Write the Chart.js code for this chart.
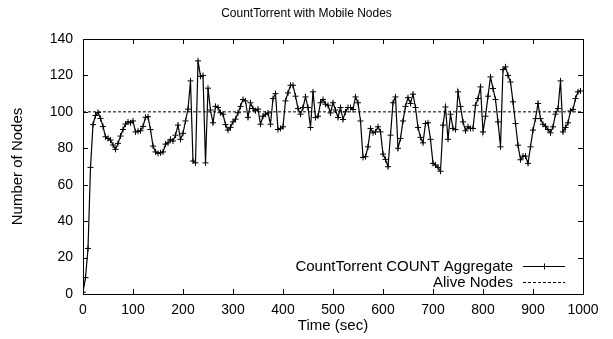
<!DOCTYPE html>
<html>
<head>
<meta charset="utf-8">
<script src="https://cdn.jsdelivr.net/npm/chart.js@4.4.0/dist/chart.umd.min.js"></script>
<style>
  html, body { margin: 0; padding: 0; background: #fff; }
  #wrap { width: 613px; height: 339px; }
</style>
</head>
<body>
<div id="wrap"><canvas id="chart" width="613" height="339"></canvas></div>
<script>
// time of each sample (sec)
const timeSec = [
  0, 5, 10, 15, 20, 25, 30, 35, 40, 45, 50, 55, 60, 65, 70, 75, 80, 85, 90, 95,
  100, 105, 110, 115, 120, 125, 130, 135, 140, 145, 150, 155, 160, 165, 170, 175, 180, 185, 190, 195,
  200, 205, 210, 215, 220, 225, 230, 235, 240, 245, 250, 255, 260, 265, 270, 275, 280, 285, 290, 295,
  300, 305, 310, 315, 320, 325, 330, 335, 340, 345, 350, 355, 360, 365, 370, 375, 380, 385, 390, 395,
  400, 405, 410, 415, 420, 425, 430, 435, 440, 445, 450, 455, 460, 465, 470, 475, 480, 485, 490, 495,
  500, 505, 510, 515, 520, 525, 530, 535, 540, 545, 550, 555, 560, 565, 570, 575, 580, 585, 590, 595,
  600, 605, 610, 615, 620, 625, 630, 635, 640, 645, 650, 655, 660, 665, 670, 675, 680, 685, 690, 695,
  700, 705, 710, 715, 720, 725, 730, 735, 740, 745, 750, 755, 760, 765, 770, 775, 780, 785, 790, 795,
  800, 805, 810, 815, 820, 825, 830, 835, 840, 845, 850, 855, 860, 865, 870, 875, 880, 885, 890, 895,
  900, 905, 910, 915, 920, 925, 930, 935, 940, 945, 950, 955, 960, 965, 970, 975, 980, 985, 990, 995
];

// CountTorrent COUNT aggregate
const countAggregate = [
  1, 9, 25, 69.5, 93, 98, 99.7, 96.4, 92, 86.3, 85.4, 84.5, 81.8, 79.4, 82.7, 86.7, 90.3, 93.3, 94.5, 94,
  95, 89, 89.4, 89.6, 92, 97, 97.3, 90.3, 81.2, 78, 77.2, 77.5, 78, 82.3, 83, 84.9, 84, 87.2, 92.7, 84.9,
  88.2, 95, 101.5, 117, 73, 72, 128, 119.5, 120, 72, 113, 101, 94, 103, 102.4, 99.5, 98.7, 93, 90, 91.5,
  94.5, 96, 99.5, 103, 106.8, 106, 97, 105, 101.8, 100.6, 101.5, 93.2, 97.6, 98.7, 99.4, 93.2, 107.3, 110, 90.3, 90.9,
  91.8, 106, 110.4, 114.6, 114.6, 108.6, 101.8, 98.7, 102.4, 108.2, 102.4, 91.4, 111, 96.9, 97.6, 105, 106.8, 104.2, 103.6, 99.4,
  105, 101, 96.9, 102.4, 95.8, 100, 102.4, 102.4, 101.3, 108.2, 105, 95, 75, 75.4, 80.8, 90.9, 88.5, 89, 91.8, 89,
  76.8, 73.9, 69.9, 87.2, 105, 108.2, 80, 85.4, 95, 103, 107.8, 104.6, 109.7, 102.4, 91.4, 86, 83, 93.6, 94, 84.9,
  71.7, 70.8, 69.5, 67.4, 92.7, 102.7, 84.9, 98.7, 90.9, 90.3, 111, 103, 94.5, 89.6, 91.8, 90.9, 90.9, 103.6, 107.3, 113.7,
  89, 97.6, 108.6, 119.2, 112.8, 106.8, 94.5, 80.8, 123.2, 124.7, 120, 116.4, 105.5, 93.6, 81.7, 73.7, 75.7, 75.7, 71.7, 80.8,
  90, 96.3, 104.6, 96.3, 93.2, 92.1, 90.3, 88.5, 91.8, 98.7, 101.8, 117, 89, 91.4, 94, 100.5, 101.3, 107.3, 111, 111.5
];

const aliveTime = [0, 1000];
const aliveNodes = [100, 100];

const xTicks = [0, 100, 200, 300, 400, 500, 600, 700, 800, 900, 1000];
const yTicks = [0, 20, 40, 60, 80, 100, 120, 140];

const chartTitle = 'CountTorrent with Mobile Nodes';

const FONT = '"Liberation Sans", Arial, Helvetica, sans-serif';
Chart.defaults.font.family = FONT;
Chart.defaults.color = '#000';

// title centred on the whole picture, like gnuplot does
const topTitle = {
  id: 'topTitle',
  afterDraw(chart) {
    const { ctx, width } = chart;
    ctx.save();
    ctx.font = '12px ' + FONT;
    ctx.fillStyle = '#000';
    ctx.textAlign = 'center';
    ctx.textBaseline = 'middle';
    ctx.fillText(chartTitle, width / 2, 14);
    ctx.restore();
  }
};

// gnuplot style border with inward tick marks on all four sides
const frame = {
  id: 'frame',
  beforeDatasetsDraw(chart) {
    const { ctx, chartArea: a, scales: { x, y } } = chart;
    const len = 5;
    ctx.save();
    ctx.strokeStyle = '#000';
    ctx.lineWidth = 1;
    ctx.beginPath();
    for (const v of xTicks) {
      const px = Math.round(x.getPixelForValue(v)) + 0.5;
      ctx.moveTo(px, a.bottom); ctx.lineTo(px, a.bottom - len);
      ctx.moveTo(px, a.top); ctx.lineTo(px, a.top + len);
    }
    for (const v of yTicks) {
      const py = Math.round(y.getPixelForValue(v)) + 0.5;
      ctx.moveTo(a.left, py); ctx.lineTo(a.left + len, py);
      ctx.moveTo(a.right, py); ctx.lineTo(a.right - len, py);
    }
    ctx.stroke();
    ctx.strokeRect(Math.round(a.left) + 0.5, Math.round(a.top) + 0.5,
                   Math.round(a.width), Math.round(a.height));
    ctx.restore();
  }
};

// key in the lower right corner: label, then line sample
const key = {
  id: 'key',
  afterDatasetsDraw(chart) {
    const { ctx, chartArea: a } = chart;
    ctx.save();
    ctx.font = '15px ' + FONT;
    ctx.fillStyle = '#000';
    ctx.strokeStyle = '#000';
    ctx.textAlign = 'right';
    ctx.textBaseline = 'middle';
    chart.data.datasets.forEach((ds, i) => {
      const yy = a.bottom - 28 + i * 16;
      ctx.fillText(ds.label, a.right - 70, yy + 1);
      const x0 = a.right - 60, x1 = a.right - 18;
      ctx.lineWidth = ds.borderWidth;
      ctx.setLineDash(ds.borderDash || []);
      ctx.beginPath();
      ctx.moveTo(x0, Math.round(yy) + 0.5);
      ctx.lineTo(x1, Math.round(yy) + 0.5);
      ctx.stroke();
      if (ds.pointRadius) {
        ctx.setLineDash([]);
        ctx.lineWidth = 1;
        const cx = Math.round((x0 + x1) / 2) + 0.5, cy = Math.round(yy) + 0.5;
        ctx.beginPath();
        ctx.moveTo(cx - 3, cy); ctx.lineTo(cx + 3, cy);
        ctx.moveTo(cx, cy - 3); ctx.lineTo(cx, cy + 3);
        ctx.stroke();
      }
    });
    ctx.restore();
  }
};

new Chart(document.getElementById('chart'), {
  type: 'line',
  data: {
    datasets: [
      {
        label: 'CountTorrent COUNT Aggregate',
        data: timeSec.map((t, i) => ({ x: t, y: countAggregate[i] })),
        borderColor: '#000',
        borderWidth: 1.2,
        pointStyle: 'cross',
        pointRadius: 3,
        pointBorderWidth: 1,
        pointBorderColor: '#000',
        pointBackgroundColor: '#000',
        tension: 0,
        fill: false
      },
      {
        label: 'Alive Nodes',
        data: aliveTime.map((t, i) => ({ x: t, y: aliveNodes[i] })),
        borderColor: '#000',
        borderWidth: 1,
        borderDash: [3, 2],
        pointRadius: 0,
        tension: 0,
        fill: false
      }
    ]
  },
  options: {
    responsive: false,
    animation: false,
    devicePixelRatio: 1,
    layout: { padding: { left: 0, right: 30, top: 39, bottom: 0 } },
    plugins: {
      legend: { display: false },
      tooltip: { enabled: false },
      title: { display: false }
    },
    scales: {
      x: {
        type: 'linear',
        min: 0,
        max: 1000,
        afterBuildTicks: s => { s.ticks = xTicks.map(v => ({ value: v })); },
        ticks: { font: { size: 14 }, padding: 8, maxRotation: 0, color: '#000', callback: v => String(v) },
        grid: { display: false, drawTicks: false },
        border: { display: false },
        title: { display: true, text: 'Time (sec)', font: { size: 15 }, padding: { top: 4 }, color: '#000' },
        afterFit: s => { s.height = 45; }
      },
      y: {
        type: 'linear',
        min: 0,
        max: 140,
        afterBuildTicks: s => { s.ticks = yTicks.map(v => ({ value: v })); },
        ticks: { font: { size: 14 }, padding: 10, color: '#000', callback: v => String(v) },
        grid: { display: false, drawTicks: false },
        border: { display: false },
        title: { display: true, text: 'Number of Nodes', font: { size: 15 }, padding: { top: 9 }, color: '#000' },
        afterFit: s => { s.width = 83; }
      }
    }
  },
  plugins: [frame, key, topTitle]
});
</script>
</body>
</html>
